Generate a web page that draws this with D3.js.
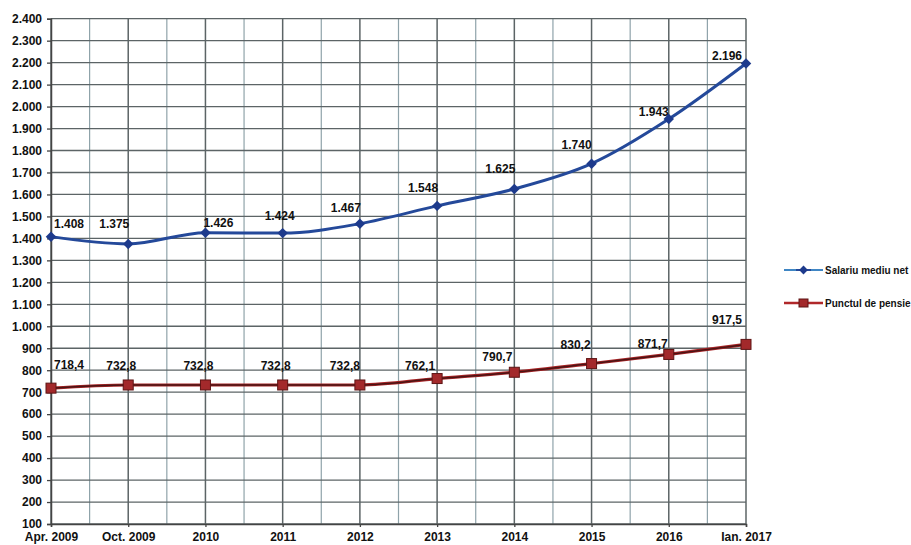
<!DOCTYPE html>
<html>
<head>
<meta charset="utf-8">
<script src="https://cdn.jsdelivr.net/npm/d3@7"></script>
<style>
  body { margin: 0; background: #fff; }
  text { font-family: Arial, "Liberation Sans", sans-serif; font-weight: bold; font-size: 12px; fill: #111; }
</style>
</head>
<body>
<script>
var categories = ["Apr. 2009", "Oct. 2009", "2010", "2011", "2012", "2013", "2014", "2015", "2016", "Ian. 2017"];
var salariu = [1408, 1375, 1426, 1424, 1467, 1548, 1625, 1740, 1943, 2196];
var punct = [718.4, 732.8, 732.8, 732.8, 732.8, 762.1, 790.7, 830.2, 871.7, 917.5];
var seriesNames = ["Salariu mediu net", "Punctul de pensie"];
var yTicks = d3.range(100, 2401, 100);

// label nudges (px)
var salDx = [18, -14, 13, -3, -14, -14, -14, -15, -15, -19];
var salDy = [-13, -20, -10, -17, -16, -18, -20, -19, -7, -8];
var punDx = [18, -7, -7, -7, -15, -17, -17, -16, -16, -19];
var punDy = [-23, -19, -19, -19, -19, -13, -15, -19, -10, -24];

var width = 911, height = 545;
var plotLeft = 51, plotRight = 746, plotTop = 18.7, plotBottom = 524;

var ro = d3.formatLocale({ decimal: ",", thousands: ".", grouping: [3] });
var fmtInt = ro.format(",d");
var fmtDec = ro.format(".1f");

var svg = d3.select("body").append("svg")
    .attr("width", width)
    .attr("height", height);

var x = d3.scalePoint().domain(categories).range([plotLeft, plotRight]);
var y = d3.scaleLinear().domain([100, 2400]).range([plotBottom, plotTop]);
var step = x.step();

// minor vertical grid (between categories)
svg.append("g").selectAll("line")
    .data(categories.slice(1))
    .enter().append("line")
    .attr("x1", d => x(d) - step / 2)
    .attr("x2", d => x(d) - step / 2)
    .attr("y1", plotTop).attr("y2", plotBottom)
    .attr("stroke", "#8fa3aa").attr("stroke-width", 1.2);

// horizontal grid
svg.append("g").selectAll("line")
    .data(yTicks)
    .enter().append("line")
    .attr("x1", plotLeft).attr("x2", plotRight)
    .attr("y1", d => y(d)).attr("y2", d => y(d))
    .attr("stroke", "#5c6466").attr("stroke-width", 1.3);

// major vertical grid
svg.append("g").selectAll("line")
    .data(categories)
    .enter().append("line")
    .attr("x1", d => x(d)).attr("x2", d => x(d))
    .attr("y1", plotTop).attr("y2", plotBottom)
    .attr("stroke", "#5c6466").attr("stroke-width", 1.5);

// axes
var yAxis = svg.append("g")
    .attr("transform", "translate(" + plotLeft + ",0)")
    .call(d3.axisLeft(y).tickValues(yTicks).tickSize(4).tickPadding(5).tickFormat(fmtInt));
var xAxis = svg.append("g")
    .attr("transform", "translate(0," + plotBottom + ")")
    .call(d3.axisBottom(x).tickSize(3).tickPadding(5));
[yAxis, xAxis].forEach(function (a) {
    a.selectAll("path").attr("stroke", "#444").attr("stroke-width", 1.5);
    a.selectAll("line").attr("stroke", "#444").attr("stroke-width", 1.3);
    a.selectAll("text").style("font-size", "12px").style("font-weight", "bold").attr("fill", "#111");
});

var line = d3.line()
    .x((d, i) => x(categories[i]))
    .y(d => y(d))
    .curve(d3.curveMonotoneX);

// Salariu mediu net
svg.append("path")
    .datum(salariu)
    .attr("d", line)
    .attr("fill", "none")
    .attr("stroke", "#24499a")
    .attr("stroke-width", 3);
svg.append("g").selectAll("path")
    .data(salariu)
    .enter().append("path")
    .attr("d", d3.symbol().type(d3.symbolDiamond2).size(70))
    .attr("transform", (d, i) => "translate(" + x(categories[i]) + "," + y(d) + ")")
    .attr("fill", "#1d3a8c");
svg.append("g").selectAll("text")
    .data(salariu)
    .enter().append("text")
    .attr("x", (d, i) => x(categories[i]) + salDx[i])
    .attr("y", (d, i) => y(d) + salDy[i] + 4)
    .attr("text-anchor", "middle")
    .text(d => fmtInt(d));

// Punctul de pensie
svg.append("path")
    .datum(punct)
    .attr("d", line)
    .attr("fill", "none")
    .attr("stroke", "#a82426")
    .attr("stroke-width", 3.2);
svg.append("path")
    .datum(punct)
    .attr("d", line)
    .attr("fill", "none")
    .attr("stroke", "#4a1414")
    .attr("stroke-width", 1.5);
svg.append("g").selectAll("rect")
    .data(punct)
    .enter().append("rect")
    .attr("x", (d, i) => x(categories[i]) - 5)
    .attr("y", d => y(d) - 5)
    .attr("width", 10).attr("height", 10)
    .attr("fill", "#a3292b")
    .attr("stroke", "#5e1414").attr("stroke-width", 1);
svg.append("g").selectAll("text")
    .data(punct)
    .enter().append("text")
    .attr("x", (d, i) => x(categories[i]) + punDx[i])
    .attr("y", (d, i) => y(d) + punDy[i] + 4)
    .attr("text-anchor", "middle")
    .text(d => fmtDec(d));

// legend
var legend = svg.append("g").attr("transform", "translate(784,270)");
legend.append("line").attr("x1", 0).attr("x2", 39).attr("y1", 0).attr("y2", 0)
    .attr("stroke", "#3f86c4").attr("stroke-width", 2);
legend.append("line").attr("x1", 12).attr("x2", 27).attr("y1", 0).attr("y2", 0)
    .attr("stroke", "#24499a").attr("stroke-width", 2);
legend.append("path").attr("d", d3.symbol().type(d3.symbolDiamond2).size(50))
    .attr("transform", "translate(19.5,0)").attr("fill", "#1d3a8c");
legend.append("text").attr("x", 41).attr("y", 4).style("font-size", "10px").text(seriesNames[0]);

legend.append("line").attr("x1", 0).attr("x2", 39).attr("y1", 33).attr("y2", 33)
    .attr("stroke", "#b0282a").attr("stroke-width", 2.5);
legend.append("rect").attr("x", 15).attr("y", 29).attr("width", 9).attr("height", 8)
    .attr("fill", "#a3292b").attr("stroke", "#5e1414");
legend.append("text").attr("x", 41).attr("y", 37).style("font-size", "10px").text(seriesNames[1]);
</script>
</body>
</html>
